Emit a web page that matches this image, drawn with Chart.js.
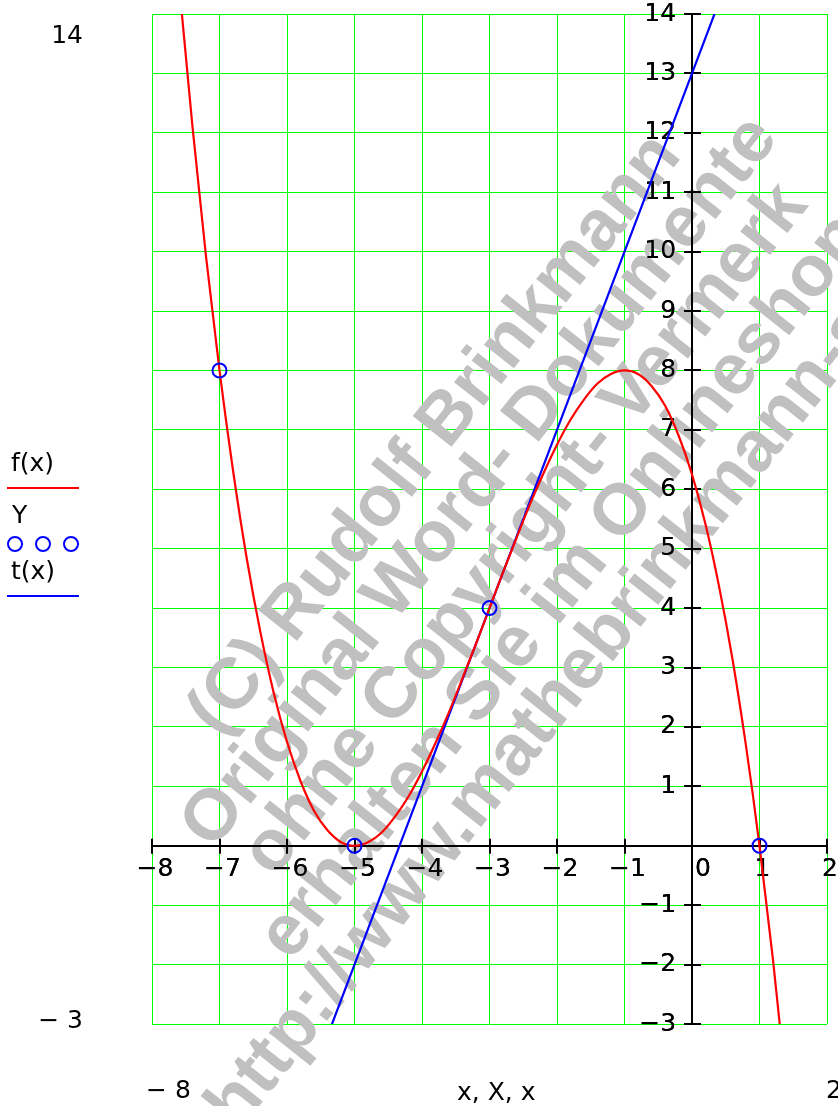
<!DOCTYPE html>
<html><head><meta charset="utf-8">
<script src="https://cdn.jsdelivr.net/npm/chart.js@4.4.1/dist/chart.umd.min.js"></script>
<style>html,body{margin:0;padding:0;background:#fff;overflow:hidden}canvas{display:block}</style>
</head><body>
<canvas id="c" width="838" height="1106"></canvas>
<script>
// ---- data ----
const xFx = [-7.6,-7.4,-7.2,-7.0,-6.8,-6.6,-6.4,-6.2,-6.0,-5.8,-5.6,-5.4,-5.2,-5.0,-4.8,-4.6,-4.4,-4.2,-4.0,-3.8,-3.6,-3.4,-3.2,-3.0,-2.8,-2.6,-2.4,-2.2,-2.0,-1.8,-1.6,-1.4,-1.2,-1.0,-0.8,-0.6,-0.4,-0.2,0.0,0.2,0.4,0.6,0.8,1.0,1.2,1.4];
const yFx = [14.53,12.10,9.92,8.00,6.32,4.86,3.63,2.59,1.75,1.09,0.59,0.26,0.06,0.00,0.06,0.22,0.49,0.83,1.25,1.73,2.25,2.82,3.40,4.00,4.60,5.18,5.75,6.27,6.75,7.17,7.51,7.78,7.94,8.00,7.94,7.74,7.41,6.91,6.25,5.41,4.37,3.14,1.68,0.00,-1.92,-4.10];
const xTx = [-6,-5,-4,-3,-2,-1,0,1];
const yTx = [-5,-2,1,4,7,10,13,16];
const xPts = [-7,-5,-3,1];
const yPts = [8,0,4,0];
const xTickValues = [-8,-7,-6,-5,-4,-3,-2,-1,0,1,2];
const xTickLabels = ['\u22128','\u22127','\u22126','\u22125','\u22124','\u22123','\u22122','\u22121','0','1','2'];
const yTickValues = [-3,-2,-1,0,1,2,3,4,5,6,7,8,9,10,11,12,13,14];
const yTickLabels = ['\u22123','\u22122','\u22121','','1','2','3','4','5','6','7','8','9','10','11','12','13','14'];
const seriesLabels = ['f(x)','Y','t(x)'];
const rangeLabels = ['14','\u2212 3','\u2212 8','x, X, x','2'];
const watermarkLines = ['(C) Rudolf Brinkmann','Original Word- Dokumente','ohne Copyright- Vermerk','erhalten Sie im Onlineshop:','http://www.mathebrinkmann-shop.de'];

const FONT = '"DejaVu Sans", sans-serif';
const GRID = 'rgb(0,255,0)';

const pts = (xs, ys) => xs.map((x, i) => ({x, y: ys[i]}));

const decor = {
  id: 'decor',
  beforeDatasetsDraw(chart) {
    const ctx = chart.ctx;
    const xs = chart.scales.x, ys = chart.scales.y;
    // watermark
    ctx.save();
    ctx.translate(526, 530);
    ctx.rotate(-51.5 * Math.PI / 180);
    ctx.font = 'bold 72px "Liberation Sans", Arial, sans-serif';
    ctx.fillStyle = '#c0c0c0';
    ctx.textAlign = 'center';
    ctx.textBaseline = 'middle';
    watermarkLines.forEach((t, i) => ctx.fillText(t, -9 * (i - 2), (i - 2) * 65));
    ctx.restore();
    // axes above watermark
    xs.drawBorder(); ys.drawBorder();
    const ax = xs.getPixelForValue(0), ay = ys.getPixelForValue(0);
    ctx.save();
    ctx.strokeStyle = '#000'; ctx.lineWidth = 2;
    ctx.beginPath();
    xTickValues.forEach(v => { const p = Math.round(xs.getPixelForValue(v)); ctx.moveTo(p, ay - 7); ctx.lineTo(p, ay + 8); });
    yTickValues.forEach(v => { const p = Math.round(ys.getPixelForValue(v)); ctx.moveTo(ax - 8, p); ctx.lineTo(ax + 9, p); });
    ctx.stroke();
    ctx.restore();
    xs.drawLabels(chart.chartArea); ys.drawLabels(chart.chartArea);
  },
  afterDraw(chart) {
    const ctx = chart.ctx;
    const ds = chart.data.datasets;
    ctx.save();
    ctx.font = '25px ' + FONT;
    ctx.fillStyle = '#000';
    ctx.textBaseline = 'alphabetic';
    ctx.textAlign = 'left';
    ctx.fillText(ds[0].label, 11, 471);
    ctx.fillText(ds[1].label, 12, 523);
    ctx.fillText(ds[2].label, 11, 579);
    ctx.lineWidth = 2;
    ctx.strokeStyle = ds[0].borderColor;
    ctx.beginPath(); ctx.moveTo(7, 488); ctx.lineTo(79, 488); ctx.stroke();
    ctx.strokeStyle = ds[2].borderColor;
    ctx.beginPath(); ctx.moveTo(7, 596); ctx.lineTo(79, 596); ctx.stroke();
    ctx.strokeStyle = ds[1].borderColor;
    [15, 43, 71].forEach(cx => { ctx.beginPath(); ctx.arc(cx, 544, 7, 0, Math.PI * 2); ctx.stroke(); });
    // range labels
    ctx.textAlign = 'right';
    ctx.fillText(rangeLabels[0], 83, 43);
    ctx.fillText(rangeLabels[1], 83, 1028);
    ctx.textAlign = 'left';
    ctx.fillText(rangeLabels[2], 146, 1098);
    ctx.fillText(rangeLabels[3], 457, 1100);
    ctx.fillText(rangeLabels[4], 826, 1098);
    ctx.restore();
  }
};

new Chart(document.getElementById('c'), {
  type: 'scatter',
  data: {
    datasets: [
      { label: seriesLabels[0], data: pts(xFx, yFx), showLine: true, borderColor: '#ff0000', borderWidth: 2.2,
        pointRadius: 0, cubicInterpolationMode: 'monotone', clip: 0, order: 1 },
      { label: seriesLabels[1], data: pts(xPts, yPts), showLine: false, borderColor: '#0000ff',
        backgroundColor: 'rgba(0,0,0,0)', pointRadius: 7, pointBorderWidth: 2, pointStyle: 'circle', clip: 10, order: 0 },
      { label: seriesLabels[2], data: pts(xTx, yTx), showLine: true, borderColor: '#0000ff', borderWidth: 2.2,
        pointRadius: 0, clip: 0, order: 2 }
    ]
  },
  options: {
    responsive: false, animation: false, devicePixelRatio: 1,
    layout: { padding: { left: 152, right: 11, top: 14, bottom: 82 } },
    plugins: { legend: { display: false }, tooltip: { enabled: false } },
    scales: {
      x: {
        type: 'linear', min: -8, max: 2, position: { y: 0 },
        afterBuildTicks: s => { s.ticks = xTickValues.map(v => ({ value: v })); },
        ticks: { autoSkip: false, maxRotation: 0, padding: 2, labelOffset: 3, color: '#000',
          font: { family: FONT, size: 25, lineHeight: 1.75 },
          callback: v => { const i = xTickValues.indexOf(v); const t = i < 0 ? '' : xTickLabels[i]; return v === 0 ? '  ' + t : t; } },
        grid: { color: GRID, lineWidth: 1, drawTicks: false },
        border: { color: '#000', width: 2 }
      },
      y: {
        type: 'linear', min: -3, max: 14, position: { x: 0 },
        afterBuildTicks: s => { s.ticks = yTickValues.map(v => ({ value: v })); },
        ticks: { autoSkip: false, padding: 0, color: '#000',
          font: { family: FONT, size: 25, lineHeight: 1.05 },
          callback: v => { const i = yTickValues.indexOf(v); const t = i < 0 ? '' : yTickLabels[i]; return t === '' ? '' : t + '  '; } },
        grid: { color: GRID, lineWidth: 1, drawTicks: false },
        border: { color: '#000', width: 2 }
      }
    }
  },
  plugins: [decor]
});
</script>
</body></html>
